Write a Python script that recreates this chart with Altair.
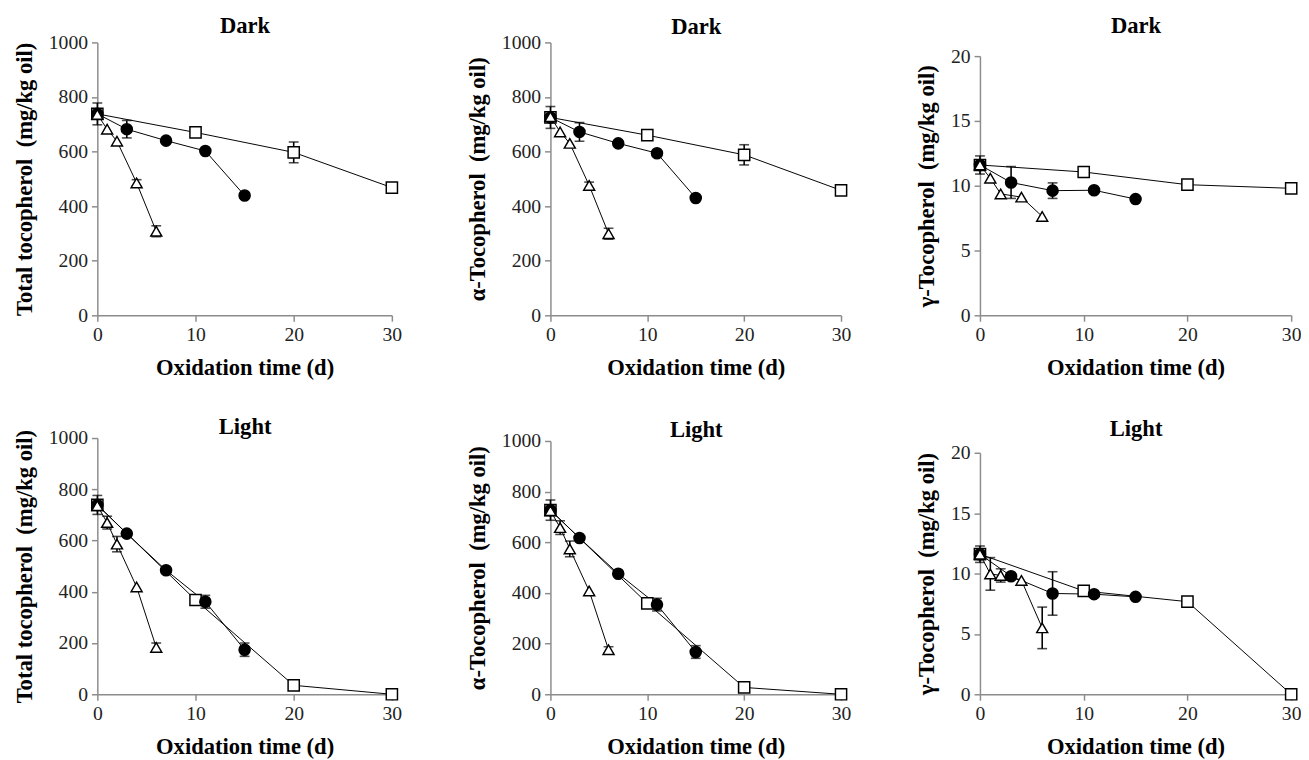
import altair as alt
import pandas as pd

# ---------------- data ----------------
DAYS_SQUARE = [0, 10, 20, 30]
DAYS_CIRCLE = [0, 3, 7, 11, 15]
DAYS_TRIANGLE = [0, 1, 2, 4, 6]

SERIES = ["Square", "Circle", "Triangle"]

# Dark - total tocopherol
dark_total_square = [738, 670, 597, 468]
dark_total_circle = [738, 682, 640, 602, 439]
dark_total_triangle = [736, 682, 638, 485, 308]
dark_total_square_err = [40, 0, 38, 0]
dark_total_circle_err = [0, 32, 0, 0, 0]
dark_total_triangle_err = [0, 0, 0, 12, 20]

# Dark - alpha tocopherol
dark_alpha_square = [725, 660, 588, 458]
dark_alpha_circle = [725, 672, 630, 594, 430]
dark_alpha_triangle = [728, 672, 630, 476, 299]
dark_alpha_square_err = [40, 0, 37, 0]
dark_alpha_circle_err = [0, 34, 0, 0, 0]
dark_alpha_triangle_err = [0, 0, 0, 12, 20]

# Dark - gamma tocopherol
dark_gamma_square = [11.6, 11.06, 10.08, 9.8]
dark_gamma_circle = [11.6, 10.25, 9.62, 9.65, 8.97]
dark_gamma_triangle = [11.6, 10.58, 9.37, 9.12, 7.63]
dark_gamma_square_err = [0.7, 0, 0, 0]
dark_gamma_circle_err = [0, 1.23, 0.6, 0, 0]
dark_gamma_triangle_err = [0, 0, 0, 0, 0]

# Light - total tocopherol
light_total_square = [739, 368, 35, 0]
light_total_circle = [739, 627, 484, 361, 174]
light_total_triangle = [736, 670, 586, 419, 183]
light_total_square_err = [37, 0, 0, 0]
light_total_circle_err = [0, 0, 0, 25, 26]
light_total_triangle_err = [0, 25, 30, 0, 17]

# Light - alpha tocopherol
light_alpha_square = [727, 359, 27, 0]
light_alpha_circle = [727, 617, 476, 354, 167]
light_alpha_triangle = [725, 658, 574, 408, 176]
light_alpha_square_err = [40, 0, 0, 0]
light_alpha_circle_err = [0, 0, 0, 25, 25]
light_alpha_triangle_err = [0, 27, 31, 0, 12]

# Light - gamma tocopherol
light_gamma_square = [11.6, 8.56, 7.67, 0]
light_gamma_circle = [11.6, 9.78, 8.35, 8.29, 8.07]
light_gamma_triangle = [11.6, 9.97, 9.84, 9.43, 5.5]
light_gamma_square_err = [0.68, 0, 0, 0]
light_gamma_circle_err = [0, 0, 1.8, 0, 0]
light_gamma_triangle_err = [0, 1.35, 0.55, 0, 1.72]

X_TITLE = "Oxidation time (d)"
Y_TOTAL = "Total tocopherol\u00a0 (mg/kg oil)"
Y_ALPHA = "\u03b1-Tocopherol\u00a0 (mg/kg oil)"
Y_GAMMA = "\u03b3-Tocopherol\u00a0 (mg/kg oil)"

FONT = "Liberation Serif"


def make_frame(sq, ci, tr, sq_e, ci_e, tr_e):
    rows = []
    for name, days, vals, errs in [
        ("Square", DAYS_SQUARE, sq, sq_e),
        ("Circle", DAYS_CIRCLE, ci, ci_e),
        ("Triangle", DAYS_TRIANGLE, tr, tr_e),
    ]:
        for d, v, e in zip(days, vals, errs):
            rows.append({"series": name, "day": d, "value": v, "err": e,
                         "lo": v - e, "hi": v + e})
    return pd.DataFrame(rows)


def panel(df, title, title_pad, ytitle, ymax, ystep, width, height, ytop):
    xscale = alt.Scale(domain=[0, 30], nice=False, zero=True, padding=0)
    yscale = alt.Scale(domain=[0, ymax], nice=False, zero=True, padding=0,
                       range=[height, ytop])
    xaxis = alt.Axis(values=[0, 10, 20, 30], title=X_TITLE, titlePadding=12,
                     labelFlush=False, format="d", orient="bottom")
    top_axis = alt.Axis(orient="top", title=title, labels=False, ticks=False,
                        domain=False, titlePadding=title_pad, titleFontSize=23)
    yvals = list(range(0, int(ymax) + 1, ystep))
    yaxis = alt.Axis(values=yvals, title=ytitle, titlePadding=12,
                     labelFlush=False, format="d")
    xn = alt.X("day:Q", scale=xscale, axis=None)
    base = alt.Chart(df)

    lines = base.mark_line(color="black", strokeWidth=1).encode(
        x=alt.X("day:Q", scale=xscale, axis=xaxis),
        y=alt.Y("value:Q", scale=yscale, axis=yaxis),
        detail="series:N",
        order="day:Q",
    )
    heading = base.mark_point(opacity=0).encode(
        x=alt.X("day:Q", scale=xscale, axis=top_axis),
        y=alt.Y("value:Q", scale=yscale),
    )
    errs = base.transform_filter("datum.err > 0")
    rule = errs.mark_rule(color="black", strokeWidth=1.6).encode(
        x=xn,
        y=alt.Y("lo:Q", scale=yscale),
        y2="hi:Q",
    )
    cap_lo = errs.mark_tick(color="black", orient="horizontal", size=10,
                            thickness=1.6).encode(
        x=xn, y=alt.Y("lo:Q", scale=yscale))
    cap_hi = errs.mark_tick(color="black", orient="horizontal", size=10,
                            thickness=1.6).encode(
        x=xn, y=alt.Y("hi:Q", scale=yscale))
    pts = base.mark_point(filled=True, stroke="black", strokeWidth=1.5,
                          opacity=1).encode(
        x=xn,
        y=alt.Y("value:Q", scale=yscale),
        shape=alt.Shape("series:N", legend=None,
                        scale=alt.Scale(domain=SERIES,
                                        range=["square", "circle", "triangle-up"])),
        fill=alt.Fill("series:N", legend=None,
                      scale=alt.Scale(domain=SERIES,
                                      range=["white", "black", "white"])),
        size=alt.Size("series:N", legend=None,
                      scale=alt.Scale(domain=SERIES, range=[130, 125, 140])),
    )
    return alt.layer(lines, heading, rule, cap_lo, cap_hi, pts).resolve_axis(
        x="independent"
    ).properties(width=width, height=height)


TOP_H = 278
BOT_H = 261

p1 = panel(make_frame(dark_total_square, dark_total_circle, dark_total_triangle,
                      dark_total_square_err, dark_total_circle_err, dark_total_triangle_err),
           "Dark", 5, Y_TOTAL, 1000, 200, 300, TOP_H, 0)
p2 = panel(make_frame(dark_alpha_square, dark_alpha_circle, dark_alpha_triangle,
                      dark_alpha_square_err, dark_alpha_circle_err, dark_alpha_triangle_err),
           "Dark", 4, Y_ALPHA, 1000, 200, 296, TOP_H, 0)
p3 = panel(make_frame(dark_gamma_square, dark_gamma_circle, dark_gamma_triangle,
                      dark_gamma_square_err, dark_gamma_circle_err, dark_gamma_triangle_err),
           "Dark", 5, Y_GAMMA, 20, 5, 317, TOP_H, 14)
p4 = panel(make_frame(light_total_square, light_total_circle, light_total_triangle,
                      light_total_square_err, light_total_circle_err, light_total_triangle_err),
           "Light", 0, Y_TOTAL, 1000, 200, 300, BOT_H, 0)
p5 = panel(make_frame(light_alpha_square, light_alpha_circle, light_alpha_triangle,
                      light_alpha_square_err, light_alpha_circle_err, light_alpha_triangle_err),
           "Light", -3, Y_ALPHA, 1000, 200, 296, BOT_H, 3)
p6 = panel(make_frame(light_gamma_square, light_gamma_circle, light_gamma_triangle,
                      light_gamma_square_err, light_gamma_circle_err, light_gamma_triangle_err),
           "Light", -2, Y_GAMMA, 20, 5, 317, BOT_H, 15)

row1 = alt.hconcat(p1, p2, p3, spacing=65.5)
row2 = alt.hconcat(p4, p5, p6, spacing=65.5)

chart = alt.vconcat(row1, row2, spacing=37).properties(
    padding={"left": 5, "top": 0, "right": 0, "bottom": 0},
    background="white",
).configure_view(
    stroke=None
).configure_axis(
    grid=False,
    domainColor="#8c8c8c",
    domainWidth=1.5,
    tickColor="#8c8c8c",
    tickWidth=1.5,
    tickSize=6,
    labelPadding=4,
    labelFont=FONT,
    labelFontSize=20,
    labelColor="#222222",
    titleFont=FONT,
    titleFontSize=23,
    titleFontWeight="bold",
    titleColor="black",
)

chart.save("out.html", embed_options={"renderer": "svg", "actions": False})
